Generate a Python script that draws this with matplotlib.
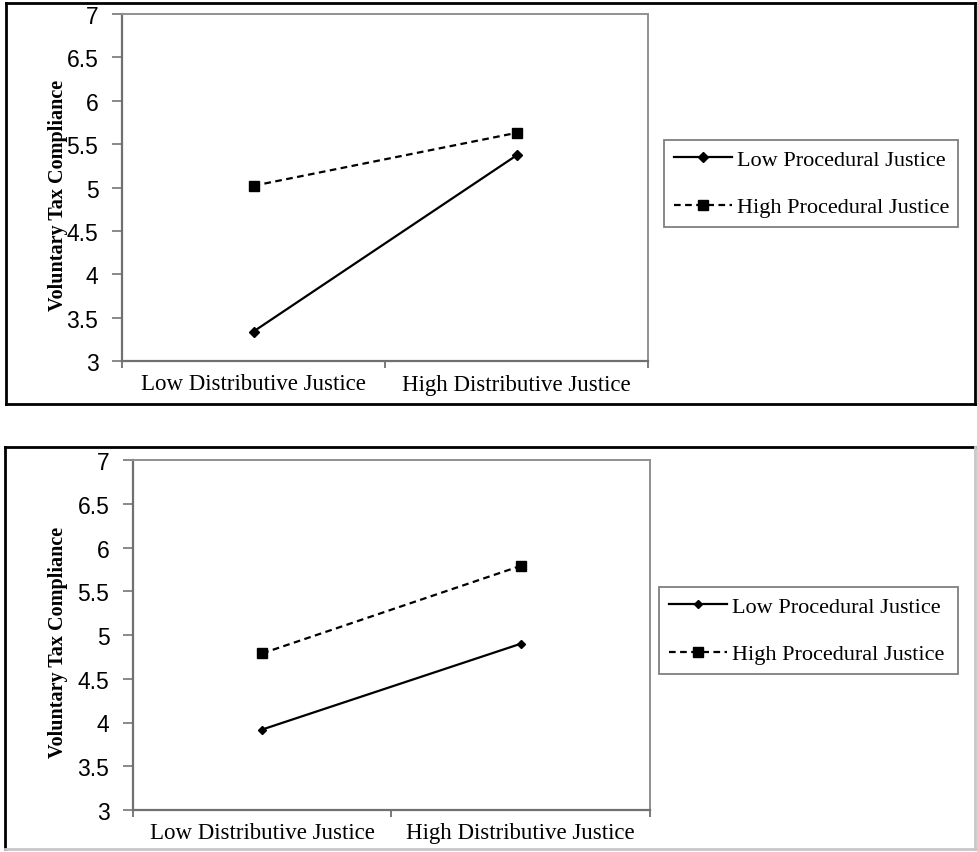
import matplotlib
matplotlib.use("Agg")
import matplotlib.pyplot as plt
from matplotlib.lines import Line2D

W, H = 978, 853

categories = ["Low Distributive Justice", "High Distributive Justice"]
series_names = ["Low Procedural Justice", "High Procedural Justice"]
y_ticks = [3, 3.5, 4, 4.5, 5, 5.5, 6, 6.5, 7]
y_ticklabels = ["3", "3.5", "4", "4.5", "5", "5.5", "6", "6.5", "7"]
y_label = "Voluntary Tax Compliance"

top_low_pj = [3.34, 5.37]
top_high_pj = [5.02, 5.63]
bottom_low_pj = [3.92, 4.90]
bottom_high_pj = [4.79, 5.79]

fig = plt.figure(figsize=(W / 100, H / 100), dpi=100)
fig.patch.set_facecolor("white")

SERIF = ["Liberation Serif", "DejaVu Serif"]
SANS = ["Liberation Sans", "DejaVu Sans"]


def px_rect(l, t, r, b):
    return [l / W, 1 - b / H, (r - l) / W, (b - t) / H]


def outer_box(l, t, r, b, colors):
    ct, cl, cb, cr = colors
    lw = 2.0
    fig.add_artist(Line2D([l / W, r / W], [1 - t / H, 1 - t / H], color=ct, lw=lw))
    fig.add_artist(Line2D([l / W, l / W], [1 - t / H, 1 - b / H], color=cl, lw=lw))
    fig.add_artist(Line2D([l / W, r / W], [1 - b / H, 1 - b / H], color=cb, lw=lw))
    fig.add_artist(Line2D([r / W, r / W], [1 - t / H, 1 - b / H], color=cr, lw=lw))


def panel(rect, low, high, label_xy, legend_box, low_marker, low_ms):
    ax = fig.add_axes(px_rect(*rect))
    x = [0.5, 1.5]
    ax.plot(x, low, color="black", lw=1.6, marker=low_marker, markersize=low_ms,
            label=series_names[0])
    ax.plot(x, high, color="black", lw=1.6, ls=(0, (3, 2)), marker="s",
            markersize=7, label=series_names[1])
    ax.set_xlim(0, 2)
    ax.set_ylim(3, 7)
    ax.set_yticks(y_ticks)
    ax.set_yticklabels(y_ticklabels, fontfamily=SANS, fontsize=16.5)
    ax.set_xticks(x)
    ax.set_xticklabels(categories, fontfamily=SERIF, fontsize=16.5)
    ax.set_xticks([0, 1, 2], minor=True)
    ax.tick_params(axis="x", which="major", length=0, pad=9)
    ax.tick_params(axis="x", which="minor", length=5, width=1.3, color="#707070",
                   direction="out")
    ax.tick_params(axis="y", which="major", length=7, width=1.3, color="#808080",
                   pad=10)
    for side in ["left", "bottom"]:
        ax.spines[side].set_color("#707070")
        ax.spines[side].set_linewidth(1.6)
    for side in ["top", "right"]:
        ax.spines[side].set_color("#909090")
        ax.spines[side].set_linewidth(1.4)
    ax.set_ylabel(y_label, fontfamily=SERIF, fontweight="bold", fontsize=14.5)
    ax.yaxis.set_label_coords(*label_xy, transform=ax.transAxes)
    l, t, r, b = legend_box
    leg = ax.legend(loc="center", bbox_to_anchor=(l / W, 1 - b / H, (r - l) / W, (b - t) / H),
                    bbox_transform=fig.transFigure, mode="expand",
                    prop={"family": SERIF, "size": 16}, frameon=True, fancybox=False,
                    handlelength=2.6, handletextpad=0.25, labelspacing=1.2,
                    borderaxespad=0, borderpad=0.45)
    leg.get_frame().set_edgecolor("#606060")
    leg.get_frame().set_linewidth(1.3)
    return ax


# Top panel
outer_box(6, 4, 975, 405, ("black", "black", "black", "black"))
panel((122, 15, 648, 362), top_low_pj, top_high_pj, (-0.102, 0.481),
      (664, 135, 958, 234), "D", 5.5)

# Bottom panel
outer_box(5, 448, 975, 850, ("black", "black", "#c8c8c8", "#c8c8c8"))
panel((133, 461, 650, 811), bottom_low_pj, bottom_high_pj, (-0.125, 0.483),
      (659, 581, 958, 682), "D", 4.5)

fig.savefig("out.png", dpi=100, facecolor="white")
